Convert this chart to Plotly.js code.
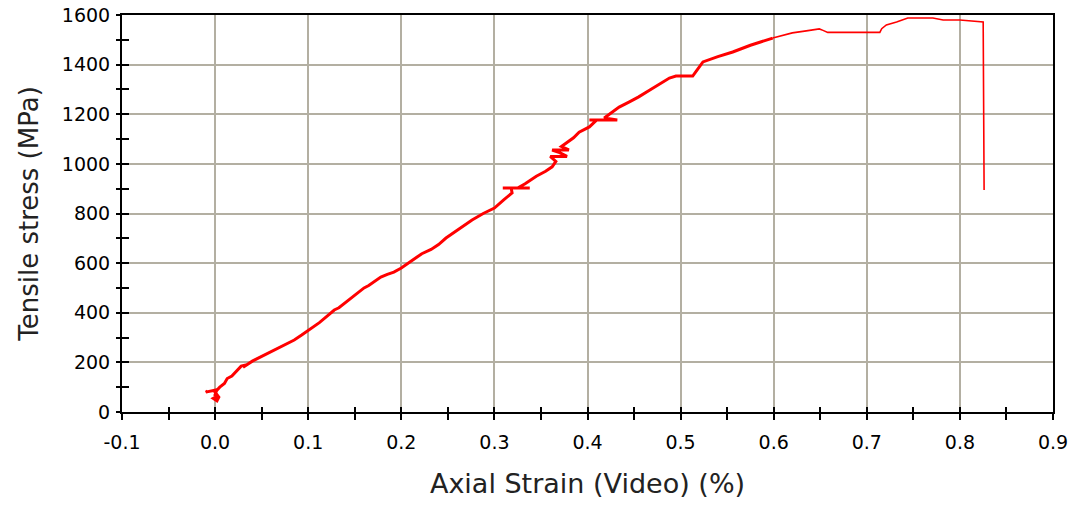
<!DOCTYPE html>
<html>
<head>
<meta charset="utf-8">
<script src="https://cdn.plot.ly/plotly-3.0.1.min.js"></script>
<style>html,body{margin:0;padding:0;background:#fff}#chart{width:1074px;height:507px}</style>
</head>
<body>
<div id="chart"></div>
<script>
// Main (noisy) part of the curve
const strainA = [-0.008,-0.010,0.002,0.000,0.003,-0.002,0.002,0.004,0.000,0.005,0.010,0.013,0.018,0.022,0.028,0.033,0.030,0.040,0.049,0.055,0.060,0.072,0.078,0.085,0.093,0.101,0.112,0.120,0.128,0.133,0.140,0.150,0.157,0.160,0.165,0.172,0.178,0.185,0.192,0.200,0.206,0.212,0.222,0.232,0.240,0.248,0.258,0.268,0.276,0.288,0.300,0.310,0.319,0.318,0.309,0.338,0.325,0.333,0.345,0.355,0.362,0.366,0.360,0.378,0.370,0.362,0.380,0.372,0.378,0.385,0.391,0.402,0.410,0.402,0.432,0.418,0.425,0.434,0.445,0.455,0.467,0.478,0.488,0.495,0.513,0.518,0.524,0.540,0.556,0.575,0.590,0.599];
const stressA = [85,80,90,70,65,55,45,60,80,100,115,135,145,160,185,190,180,205,222,235,245,265,278,290,310,330,360,385,411,420,440,470,492,500,510,530,544,555,564,580,595,612,638,655,675,701,728,752,774,800,822,855,883,903,903,903,903,920,950,970,988,1010,1030,1030,1045,1056,1056,1070,1085,1105,1128,1149,1177,1177,1177,1185,1205,1229,1250,1270,1298,1322,1346,1354,1354,1380,1411,1432,1451,1478,1495,1507];
// Upper part (plateau, peak and break)
const strainB = [0.599,0.606,0.620,0.635,0.645,0.649,0.653,0.658,0.680,0.714,0.716,0.721,0.732,0.744,0.771,0.782,0.800,0.825,0.826];
const stressB = [1507,1515,1528,1536,1540,1544,1538,1530,1530,1530,1545,1560,1572,1588,1588,1580,1580,1572,895];
// Tick labels
const xTickVals = [-0.1,0.0,0.1,0.2,0.3,0.4,0.5,0.6,0.7,0.8,0.9];
const xTickText = ['-0.1','0.0','0.1','0.2','0.3','0.4','0.5','0.6','0.7','0.8','0.9'];
const yTickVals = [0,200,400,600,800,1000,1200,1400,1600];

const tickFont = {family:'DejaVu Sans, Verdana, sans-serif', size:19, color:'#000'};
const xTitleFont = {family:'DejaVu Sans, Verdana, sans-serif', size:27, color:'#222'};
const yTitleFont = {family:'DejaVu Sans, Verdana, sans-serif', size:26, color:'#222'};
const gridColor = '#b3afa2';

const traces = [
  {x:strainA, y:stressA, type:'scatter', mode:'lines', line:{color:'#ff0000', width:3}, xaxis:'x', yaxis:'y', hoverinfo:'skip'},
  {x:strainB, y:stressB, type:'scatter', mode:'lines', line:{color:'#ff0000', width:1.6}, xaxis:'x2', yaxis:'y2', hoverinfo:'skip'}
];

const layout = {
  width:1074, height:507,
  margin:{l:122, r:21, t:15, b:95},
  paper_bgcolor:'#fff', plot_bgcolor:'#fff',
  showlegend:false,
  xaxis:{
    range:[-0.1,0.9], tickvals:xTickVals, ticktext:xTickText,
    showgrid:true, gridcolor:gridColor, gridwidth:2, zeroline:false,
    showline:true, linecolor:'#000', linewidth:2, mirror:true,
    ticks:'outside', ticklen:6, tickwidth:2, tickcolor:'#000',
    minor:{dtick:0.05, tick0:0, ticks:'outside', ticklen:6, tickwidth:2, tickcolor:'#000', showgrid:false},
    tickfont:tickFont, ticklabelstandoff:6,
    title:{text:'Axial Strain (Video) (%)', font:xTitleFont, standoff:22}
  },
  yaxis:{
    range:[0,1600], tickvals:yTickVals,
    showgrid:true, gridcolor:gridColor, gridwidth:2, zeroline:false,
    showline:true, linecolor:'#000', linewidth:2, mirror:true,
    ticks:'outside', ticklen:4, tickwidth:2, tickcolor:'#000',
    minor:{dtick:100, tick0:0, ticks:'outside', ticklen:4, tickwidth:2, tickcolor:'#000', showgrid:false},
    tickfont:tickFont, ticklabelstandoff:2,
    title:{text:'Tensile stress (MPa)', font:yTitleFont, standoff:16}
  },
  xaxis2:{
    range:[-0.1,0.9], overlaying:'x', tickvals:xTickVals, showticklabels:false,
    showgrid:false, zeroline:false, showline:false,
    ticks:'inside', ticklen:5, tickwidth:2, tickcolor:'#000',
    minor:{dtick:0.05, tick0:0, ticks:'inside', ticklen:5, tickwidth:2, tickcolor:'#000', showgrid:false}
  },
  yaxis2:{
    range:[0,1600], overlaying:'y', tickvals:yTickVals, showticklabels:false,
    showgrid:false, zeroline:false, showline:false,
    ticks:'inside', ticklen:7, tickwidth:2, tickcolor:'#000',
    minor:{dtick:100, tick0:0, ticks:'inside', ticklen:7, tickwidth:2, tickcolor:'#000', showgrid:false}
  }
};

Plotly.newPlot('chart', traces, layout, {staticPlot:true, displayModeBar:false});
</script>
</body>
</html>
